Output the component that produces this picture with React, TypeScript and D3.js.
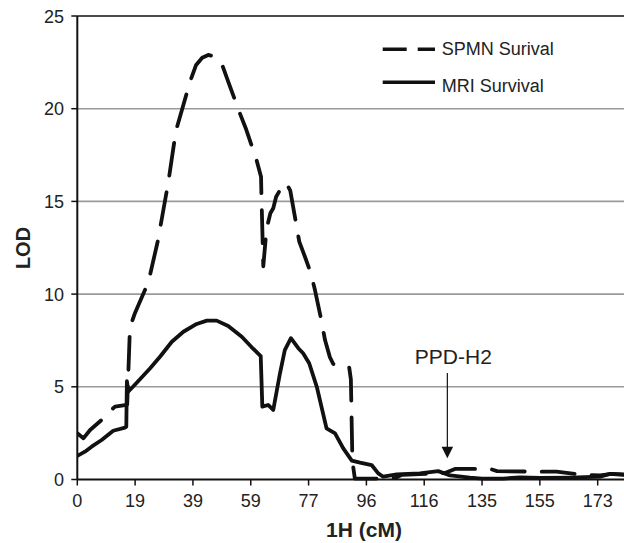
import React from 'react';
import * as d3 from 'd3';

// ---- data ----
const xTickValues = [0, 19, 39, 59, 77, 96, 116, 135, 155, 173];
const xAxisBreaks = [0, 19, 39, 59, 77, 96, 116, 135, 155, 173, 192];
const yTickValues = [0, 5, 10, 15, 20, 25];

const mriCM = [0, 2.5, 4.7, 8.0, 11.8, 15.7, 16.1, 16.3, 16.8, 19.55, 24.2, 27.6, 31.7, 35.7, 40.3, 43.8, 47.2, 51.2, 55.9, 59.3, 62.1, 62.6, 64.4, 66.0, 68.1, 69.6, 71.5, 73.8, 75.3, 77.2, 79.7, 82.9, 85.7, 88.4, 91.2, 93.9, 97.8, 100.1, 101.8, 106.5, 114.5, 120.6, 124.5, 131.0, 135, 142.3, 148.1, 155, 164.4, 173.8, 177.0, 181.6];
const mriLOD = [1.27, 1.5, 1.77, 2.13, 2.63, 2.8, 2.85, 5.3, 4.75, 5.22, 6.0, 6.62, 7.43, 7.97, 8.39, 8.57, 8.57, 8.28, 7.7, 7.13, 6.66, 3.93, 4.02, 3.75, 5.73, 6.98, 7.62, 7.08, 6.81, 6.27, 5.0, 2.76, 2.49, 1.68, 1.02, 0.91, 0.78, 0.33, 0.15, 0.28, 0.33, 0.45, 0.22, 0.1, 0.05, 0.05, 0.12, 0.08, 0.1, 0.15, 0.3, 0.25];

const spmnCM = [0, 2.0, 4.2, 8.0, 10.1, 12.4, 16.2, 16.4, 17.3, 19.0, 23.6, 26.9, 30.5, 33.1, 38.0, 40.1, 42.2, 44.3, 46.6, 49.0, 51.2, 55.0, 57.4, 60.8, 62.2, 62.3, 62.9, 63.9, 65.1, 66.0, 66.9, 69.0, 70.0, 71.3, 73.2, 74.1, 75.9, 77.7, 79.1, 81.3, 82.4, 84.0, 85.1, 87.1, 90.3, 90.9, 91.4, 92.2, 100.7, 105.9, 108.3, 119.5, 122.8, 126.1, 137.8, 140.2, 155, 160.2, 165.9, 170.6, 173.8, 177.6, 181.6];
const spmnLOD = [2.49, 2.22, 2.67, 3.21, 3.6, 3.93, 4.02, 4.05, 8.2, 9.0, 10.65, 12.9, 16.05, 18.8, 21.46, 22.36, 22.75, 22.9, 22.8, 22.41, 21.46, 19.84, 18.89, 17.23, 16.33, 15.5, 11.5, 13.5, 14.36, 14.63, 15.25, 15.88, 16.0, 15.58, 13.73, 12.83, 12.0, 11.15, 10.22, 8.51, 7.52, 6.6, 6.23, 6.18, 6.1, 5.4, 1.0, 0.05, 0.05, 0.08, 0.25, 0.32, 0.35, 0.57, 0.57, 0.45, 0.42, 0.42, 0.3, 0.24, 0.22, 0.3, 0.28];

const legendLabels = ['SPMN Surival', 'MRI Survival'];
const annotationLabel = 'PPD-H2';
const annotationCM = 123.6;
const annotationTopLOD = 5.74;
const annotationTipLOD = 1.14;
const xTitle = '1H (cM)';
const yTitle = 'LOD';

// ---- layout ----
const W = 624;
const H = 543;
const left = 77.3;
const top = 16;
const bottom = 479.5;
const step = 57.82;
const font = '"Liberation Sans", Arial, Helvetica, sans-serif';
const ink = '#111';

export default function App() {
  const x = d3
    .scaleLinear()
    .domain(xAxisBreaks)
    .range(xAxisBreaks.map((_, i) => left + i * step));
  const y = d3.scaleLinear().domain([0, 25]).range([bottom, top]);

  const line = d3
    .line<[number, number]>()
    .x((d) => x(d[0]))
    .y((d) => y(d[1]));

  const mri = mriCM.map((c, i) => [c, mriLOD[i]] as [number, number]);
  const spmn = spmnCM.map((c, i) => [c, spmnLOD[i]] as [number, number]);

  const ax = x(annotationCM);
  const aTop = y(annotationTopLOD);
  const aTip = y(annotationTipLOD);

  return (
    <svg
      width={W}
      height={H}
      style={{ position: 'absolute', left: 0, top: 0, background: '#fff' }}
      fontFamily={font}
    >
      <defs>
        <clipPath id="plot">
          <rect x={left} y={0} width={W - left} height={bottom + 4} />
        </clipPath>
      </defs>
      {/* gridlines */}
      {yTickValues
        .filter((v) => v > 0 && v < 25)
        .map((v) => (
          <line key={v} x1={left} x2={W} y1={y(v)} y2={y(v)} stroke="#9a9a9a" strokeWidth={1.6} />
        ))}
      {/* top border */}
      <line x1={left} x2={W} y1={y(25)} y2={y(25)} stroke={ink} strokeWidth={1.6} />
      {/* y ticks */}
      {yTickValues.map((v) => (
        <g key={v}>
          <line x1={left - 6} x2={left} y1={y(v)} y2={y(v)} stroke={ink} strokeWidth={1.5} />
          <text x={64} y={y(v) + 6.5} fontSize={18} textAnchor="end" fill="#222">
            {v}
          </text>
        </g>
      ))}
      {/* x ticks */}
      {xTickValues.map((v) => (
        <g key={v}>
          <line x1={x(v)} x2={x(v)} y1={bottom} y2={bottom + 6} stroke={ink} strokeWidth={1.5} />
          <text x={x(v)} y={507} fontSize={18} textAnchor="middle" fill="#222">
            {v}
          </text>
        </g>
      ))}
      {/* lines */}
      <g clipPath="url(#plot)" fill="none" stroke={ink} strokeWidth={3.8} strokeLinejoin="round">
        <path d={line(mri) || ''} strokeLinecap="round" />
        <path d={line(spmn) || ''} strokeDasharray="33,17" strokeLinecap="round" />
      </g>
      {/* axes */}
      <line x1={left} x2={W} y1={bottom} y2={bottom} stroke={ink} strokeWidth={2} />
      <line x1={left} x2={left} y1={top} y2={bottom} stroke={ink} strokeWidth={2} />
      {/* annotation */}
      <line x1={ax} x2={ax} y1={aTop} y2={aTip - 10} stroke={ink} strokeWidth={1.2} />
      <path d={`M${ax - 5.8},${aTip - 11.6} L${ax + 5.8},${aTip - 11.6} L${ax},${aTip} Z`} fill={ink} />
      <text x={ax + 6} y={363.5} fontSize={21} textAnchor="middle" fill="#222">
        {annotationLabel}
      </text>
      {/* legend */}
      <line x1={382.7} x2={435} y1={49.3} y2={49.3} stroke={ink} strokeWidth={3.6} strokeDasharray="24,11" />
      <text x={441.7} y={55} fontSize={18} fill="#222">
        {legendLabels[0]}
      </text>
      <line x1={382.7} x2={435} y1={82.3} y2={82.3} stroke={ink} strokeWidth={3.6} />
      <text x={441.7} y={91.7} fontSize={18} fill="#222">
        {legendLabels[1]}
      </text>
      {/* titles */}
      <text x={364} y={537} fontSize={21} fontWeight="bold" textAnchor="middle" fill="#222">
        {xTitle}
      </text>
      <text
        transform={`translate(30,248) rotate(-90)`}
        fontSize={20}
        fontWeight="bold"
        textAnchor="middle"
        fill="#222"
      >
        {yTitle}
      </text>
    </svg>
  );
}
